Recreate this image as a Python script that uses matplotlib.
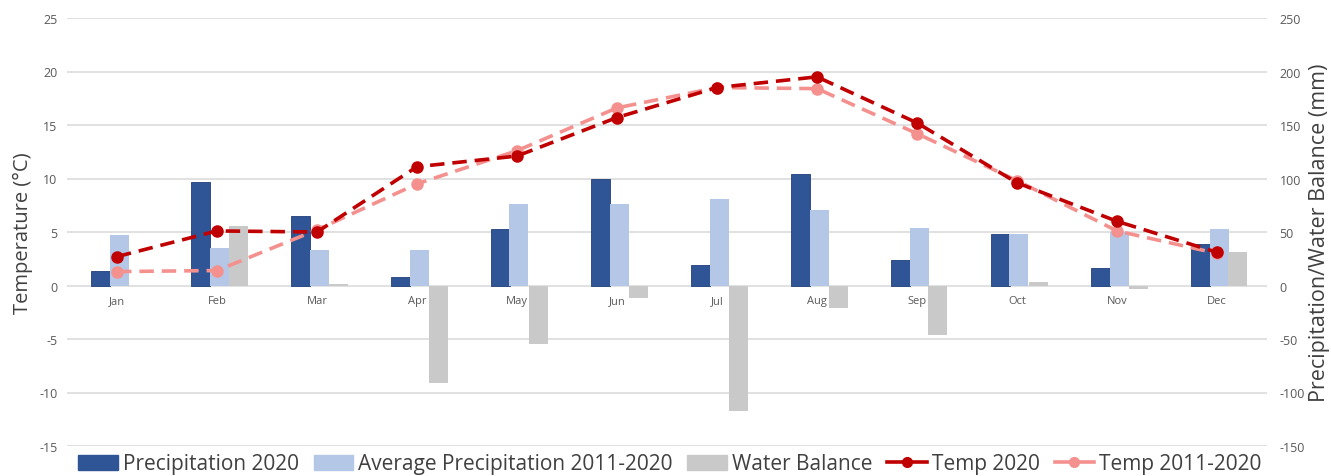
import numpy as np
import matplotlib
matplotlib.use('Agg')
import matplotlib.pyplot as plt
from matplotlib.patches import Patch
from matplotlib.lines import Line2D

plt.rcParams['font.family'] = ['Open Sans', 'DejaVu Sans']
plt.rcParams['axes.unicode_minus'] = False

months = ['Jan', 'Feb', 'Mar', 'Apr', 'May', 'Jun', 'Jul', 'Aug', 'Sep', 'Oct', 'Nov', 'Dec']

# precipitation and water balance in mm
precip_2020 = [14, 97, 65, 7.5, 53, 100, 19, 104, 24, 48, 16.5, 39]
precip_avg = [47, 35, 33, 33, 76, 76, 81, 71, 54, 48, 50, 53]
water_balance = [0, 56, 1, -91, -55, -12, -117, -21, -46, 3, -3.5, 31]

# monthly mean temperature in deg C
temp_2020 = [2.7, 5.1, 5.0, 11.1, 12.1, 15.7, 18.5, 19.5, 15.2, 9.6, 6.0, 3.1]
temp_avg = [1.3, 1.4, 5.2, 9.5, 12.6, 16.6, 18.5, 18.4, 14.2, 9.8, 5.1, 3.0]

c_dark = '#2F5597'
c_light = '#B4C7E7'
c_gray = '#C9C9C9'
c_red = '#C00000'
c_pink = '#F4918F'
c_text = '#595959'

fig = plt.figure(figsize=(13.31, 4.77), dpi=100)
ax = fig.add_axes([67 / 1331, 30 / 477, 1200 / 1331, 428 / 477])
ax2 = ax.twinx()

x = np.arange(len(months))
w = 0.19

# bars on the mm axis
ax2.bar(x - w + 0.02, precip_2020, w, color=c_dark, edgecolor='#1F3F7A', linewidth=0.6, zorder=3)
ax2.bar(x + 0.02, precip_avg, w, color=c_light, zorder=3)
ax2.bar(x + w + 0.02, water_balance, w, color=c_gray, zorder=3)
ax2.set_ylim(-150, 250)
ax2.set_yticks(np.arange(-150, 251, 50))
ax2.grid(axis='y', color='#D9D9D9', linewidth=1.1, zorder=0)
ax2.set_axisbelow(True)

for i, m in enumerate(months):
    ax2.text(i, -9, m, ha='center', va='top', fontsize=8, color=c_text, zorder=2)

# temperature lines on top
ax.set_zorder(ax2.get_zorder() + 1)
ax.patch.set_visible(False)
ax.plot(x, temp_avg, '--', color=c_pink, lw=2.6, marker='o', ms=8, dashes=(4, 2.2))
ax.plot(x, temp_2020, '--', color=c_red, lw=2.6, marker='o', ms=8, dashes=(4, 2.2))
ax.set_ylim(-15, 25)
ax.set_yticks(np.arange(-15, 26, 5))
ax.set_xlim(-0.5, 11.5)
ax.set_xticks([])

for a in (ax, ax2):
    for s in a.spines.values():
        s.set_visible(False)
    a.tick_params(axis='y', length=0, labelsize=9, labelcolor=c_text)
ax.tick_params(axis='y', pad=7)
ax2.tick_params(axis='y', pad=9)

ax.set_ylabel('Temperature (°C)', fontsize=14.5, color='#404040')
ax.yaxis.set_label_coords(-0.028, 0.5)
ax2.set_ylabel('Precipitation/Water Balance (mm)', fontsize=15.5, color='#404040')
ax2.yaxis.set_label_coords(1.035, 0.5)

handles = [
    Patch(color=c_dark, label='Precipitation 2020'),
    Patch(color=c_light, label='Average Precipitation 2011-2020'),
    Patch(color=c_gray, label='Water Balance'),
    Line2D([], [], color=c_red, lw=2.6, marker='o', ms=7, label='Temp 2020'),
    Line2D([], [], color=c_pink, lw=2.6, marker='o', ms=7, label='Temp 2011-2020'),
]
fig.legend(handles=handles, loc='center', bbox_to_anchor=(670 / 1331, 12 / 477), ncol=5,
           frameon=False, fontsize=15, handlelength=1.9, handleheight=0.7,
           handletextpad=0.25, columnspacing=0.7, labelcolor='#404040',
           borderpad=0, borderaxespad=0)

fig.savefig('out.png', dpi=100)
